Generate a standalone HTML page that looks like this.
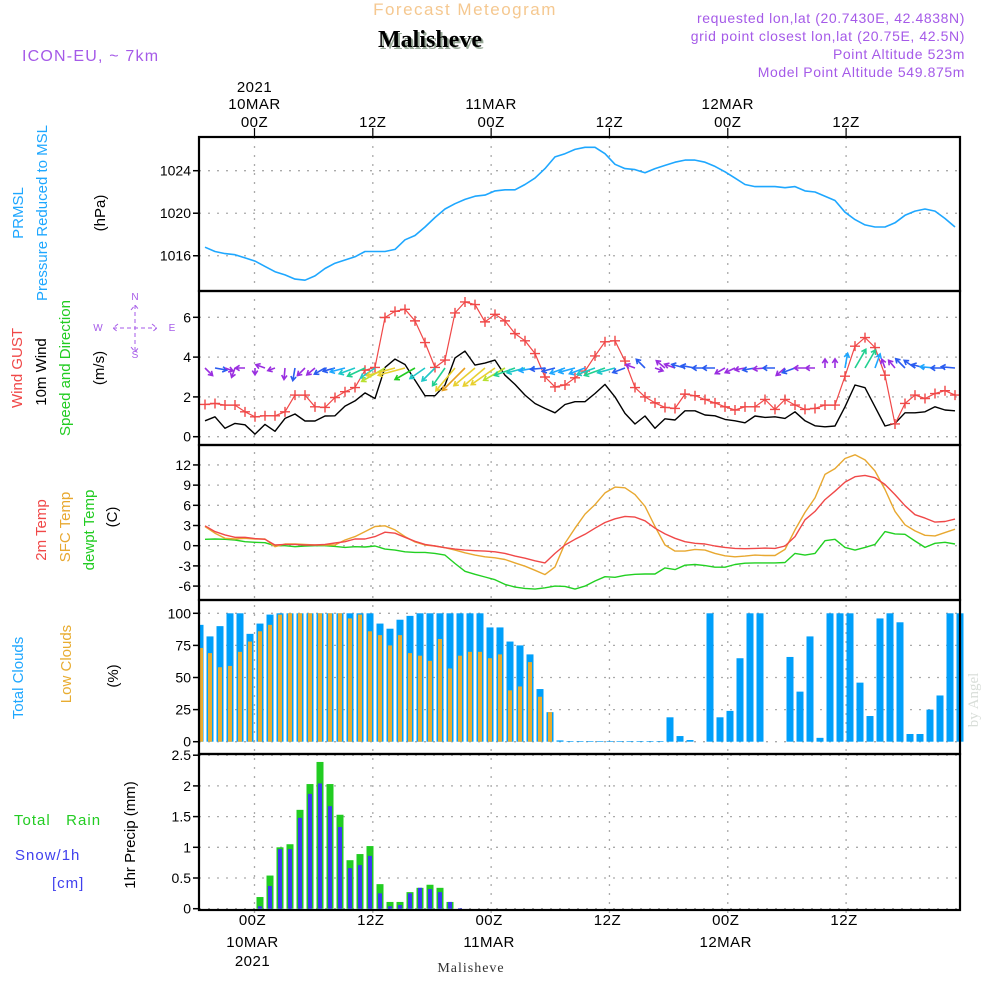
<!DOCTYPE html>
<html><head><meta charset="utf-8"><style>
html,body{margin:0;padding:0;background:#fff;}
svg{display:block;font-family:"Liberation Sans",sans-serif;}
</style></head><body>
<svg id="c" width="1000" height="1000" viewBox="0 0 1000 1000">
<text x="465" y="15" text-anchor="middle" font-size="17" fill="#f5c890" letter-spacing="1.5">Forecast Meteogram</text>
<text x="432" y="49" text-anchor="middle" font-size="24" font-weight="bold" font-family="Liberation Serif,serif" fill="#9a9">Malisheve</text>
<text x="430" y="47" text-anchor="middle" font-size="24" font-weight="bold" font-family="Liberation Serif,serif" fill="#000">Malisheve</text>
<g font-size="14" fill="#a55ae8" letter-spacing="0.6">
<text x="965" y="23" text-anchor="end">requested lon,lat (20.7430E, 42.4838N)</text>
<text x="965" y="41" text-anchor="end">grid point closest lon,lat (20.75E, 42.5N)</text>
<text x="965" y="59" text-anchor="end">Point Altitude 523m</text>
<text x="965" y="77" text-anchor="end">Model Point Altitude 549.875m</text>
</g>
<text x="22" y="61" font-size="16" fill="#a55ae8" letter-spacing="1.2">ICON-EU, ~ 7km</text>
<text x="978" y="700" transform="rotate(-90 978 700)" text-anchor="middle" font-size="15" font-family="Liberation Serif,serif" fill="#d8ddd8">by Angel</text>
<g id="grid"></g><g id="marks"></g><g id="axes"></g><g id="labels"></g>
</svg>
<script>
// ---- data (hourly, index 0..75) ----
const pressure=[1016.8,1016.4,1016.2,1016.1,1015.8,1015.5,1015.0,1014.5,1014.2,1013.8,1013.7,1014.1,1014.8,1015.3,1015.6,1015.9,1016.4,1016.4,1016.4,1016.6,1017.5,1017.9,1018.7,1019.6,1020.4,1020.9,1021.3,1021.6,1021.7,1022.1,1022.2,1022.2,1022.7,1023.3,1024.2,1025.3,1025.6,1026.0,1026.2,1026.2,1025.6,1024.6,1024.2,1024.1,1023.8,1024.2,1024.5,1024.8,1025.0,1025.0,1024.8,1024.4,1023.9,1023.3,1022.7,1022.5,1022.5,1022.5,1022.4,1022.5,1022.1,1022.0,1021.6,1021.2,1020.1,1019.4,1018.9,1018.7,1018.7,1019.1,1019.8,1020.2,1020.4,1020.2,1019.5,1018.7];
const gust=[1.62,1.67,1.59,1.59,1.25,1.0,1.05,1.05,1.25,2.09,2.09,1.5,1.47,1.97,2.26,2.47,3.34,3.48,5.99,6.3,6.4,5.82,4.73,3.48,3.85,6.22,6.77,6.64,5.77,6.15,5.82,5.18,4.82,4.18,3.0,2.5,2.6,2.96,3.3,4.06,4.77,4.82,3.8,2.47,2.0,1.7,1.47,1.42,2.14,2.06,1.87,1.7,1.5,1.34,1.5,1.5,1.87,1.37,1.87,1.59,1.37,1.42,1.59,1.59,3.04,4.55,4.98,4.48,3.09,0.64,1.67,2.09,1.92,2.17,2.31,2.09];
const wind=[0.8,1.0,0.42,0.67,0.6,0.13,0.62,0.27,0.92,1.14,0.79,0.79,1.04,1.05,1.54,1.8,2.2,1.92,3.48,3.9,3.63,2.84,2.06,2.06,2.6,3.96,4.3,3.6,3.7,3.85,3.09,2.63,2.09,1.67,1.42,1.2,1.62,1.76,1.76,2.17,2.63,2.0,1.17,0.64,1.04,0.42,0.9,0.84,1.3,1.3,1.09,1.05,0.87,0.8,0.7,1.04,0.97,1.0,0.92,1.25,0.8,0.55,0.5,0.54,1.5,2.6,2.46,1.5,0.54,0.67,1.2,1.2,1.25,1.5,1.34,1.3];
const windDir=[45,10,20,110,180,90,200,160,95,100,135,140,150,165,165,160,155,145,150,165,165,150,145,135,125,130,135,140,140,145,150,160,165,170,175,165,160,165,160,160,160,165,160,200,225,20,220,200,195,190,180,180,150,155,170,170,175,180,140,160,180,180,270,270,280,300,300,290,250,230,225,215,195,185,180,185];
const t2m=[2.95,2.1,1.6,1.25,1.25,1.05,0.95,0.1,0.2,0.2,0.1,0.1,0.2,0.4,0.6,1.0,1.0,1.35,2.0,1.85,1.25,0.65,0.2,-0.05,-0.3,-0.5,-0.65,-0.75,-0.8,-0.9,-1.15,-1.55,-1.85,-2.25,-2.55,-1.15,0.1,0.95,1.7,2.6,3.45,4.0,4.35,4.25,3.7,2.6,1.75,1.1,0.6,0.35,0.25,-0.05,-0.25,-0.4,-0.45,-0.4,-0.35,-0.4,-0.05,1.35,3.85,5.1,6.85,8.1,9.45,10.25,10.45,10.1,9.1,7.6,5.95,4.6,4.1,3.5,3.6,3.95];
const sfcT=[2.85,1.85,1.1,1.0,1.1,1.0,1.0,-0.15,0.25,0.25,0.2,0.1,0.1,0.1,0.85,1.35,2.1,2.85,2.95,2.35,1.35,0.55,0.1,-0.05,-0.3,-0.65,-1.05,-1.4,-1.65,-1.8,-2.05,-2.55,-3.05,-3.65,-4.3,-3.15,0.35,2.6,4.7,6.1,7.85,8.7,8.6,7.6,5.85,2.85,0.1,-0.8,-0.8,-0.55,-0.65,-1.15,-1.5,-1.65,-1.55,-1.4,-1.45,-1.45,-0.55,2.35,4.95,7.1,10.6,11.45,12.95,13.5,12.75,11.1,8.35,5.1,3.1,2.2,1.55,1.45,1.95,2.45];
const dewT=[0.95,1.0,0.95,0.85,0.6,0.5,0.45,0,0,-0.15,-0.05,0,0,-0.1,-0.25,-0.15,-0.2,-0.05,-0.5,-0.65,-0.9,-1.0,-1.0,-1.15,-1.4,-2.65,-3.8,-4.25,-4.65,-5.05,-5.75,-6.15,-6.35,-6.45,-6.25,-6.0,-6.05,-6.45,-6.0,-5.25,-4.6,-4.7,-4.4,-4.25,-4.2,-4.2,-3.3,-3.55,-2.9,-2.8,-2.95,-3.2,-3.2,-2.8,-2.6,-2.55,-2.55,-2.55,-2.5,-1.15,-1.4,-1.15,0.75,0.95,-0.25,-0.65,-0.25,0.2,2.1,1.75,1.7,0.7,-0.25,0.35,0.5,0.25];
// bars, index 0..76
const totalClouds=[91,82,90,100,100,84,92,99,100,100,100,100,100,100,100,100,100,100,92,88,95,98,100,100,100,100,100,100,100,89,89,78,75,68,41,23,1,0.5,0.5,0.5,0.5,0.5,0.5,0.5,0.5,0.5,0.5,19,4.4,1.3,0,100,19,24,65,100,100,0,0,66,39,82,3,100,100,100,46,20,96,100,93,6,6,25,36,100,100];
const lowClouds=[73,69,58,59,70,78,86,91,99,100,100,100,100,100,100,96,99,86,83,75,83,69,67,63,80,57,67,70,70,65,68,40,43,62,35,23,0,0,0,0,0,0,0,0,0,0,0,0,0,0,0,0,0,0,0,0,0,0,0,0,0,0,0,0,0,0,0,0,0,0,0,0,0,0,0,0,0];
const rain=[0,0,0,0,0,0,0.19,0.54,1.0,1.05,1.61,2.03,2.39,2.03,1.53,0.79,0.89,1.02,0.4,0.11,0.11,0.27,0.34,0.39,0.34,0.11,0,0,0,0,0,0,0,0,0,0,0,0,0,0,0,0,0,0,0,0,0,0,0,0,0,0,0,0,0,0,0,0,0,0,0,0,0,0,0,0,0,0,0,0,0,0,0,0,0,0,0];
const snow=[0,0,0,0,0,0,0.04,0.37,0.97,0.97,1.48,1.87,2.04,1.67,1.33,0.66,0.71,0.86,0.25,0.04,0.06,0.25,0.34,0.32,0.27,0.11,0.01,0,0,0,0,0,0,0,0,0,0,0,0,0,0,0,0,0,0,0,0,0,0,0,0,0,0,0,0,0,0,0,0,0,0,0,0,0,0,0,0,0,0,0,0,0,0,0,0,0,0];
const pTicks=[1016,1020,1024];
const wTicks=[0,2,4,6];
const tTicks=[-6,-3,0,3,6,9,12];
const cTicks=[0,25,50,75,100];
const rTicks=[0,0.5,1,1.5,2,2.5];
const rTickLabels=["0","0.5","1","1.5","2","2.5"];
const timeTicks=[0,12,24,36,48,60];
const timeLabelsTop=[["2021","10MAR","00Z"],["","","12Z"],["","11MAR","00Z"],["","","12Z"],["","12MAR","00Z"],["","","12Z"]];
const timeLabelsBot=[["00Z","10MAR","2021"],["12Z","",""],["00Z","11MAR",""],["12Z","",""],["00Z","12MAR",""],["12Z","",""]];

// ---- scales ----
const L=199,R=960;
const xL=i=>205+10*i;
const xB=i=>200+10*i;
const xT=h=>254.5+h*9.86;
const yP=v=>170.7+(1024-v)*10.63;
const yW=v=>436.7-v*19.9;
const yTm=v=>545.7-v*6.73;
const yC=v=>741.7-v*1.284;
const yR=v=>908.7-v*61.4;
const panels=[[137,291],[291,445],[445,600],[600,754],[754,910]];
const NS='http://www.w3.org/2000/svg';
function mk(tag,attrs,parent){const e=document.createElementNS(NS,tag);for(const k in attrs)e.setAttribute(k,attrs[k]);parent.appendChild(e);return e;}
const G=document.getElementById('grid'),M=document.getElementById('marks'),A=document.getElementById('axes'),T=document.getElementById('labels');

function hgrid(ticks,ys,fmt,name){ticks.forEach((t,k)=>{const y=ys(t);
 const g=mk('line',{x1:L,x2:R,y1:y,y2:y,stroke:'#aaa','stroke-width':1.3,'stroke-dasharray':'2 7'},G);
 
 
 const tk=mk('line',{x1:L-6,x2:L,y1:y,y2:y,stroke:'#000','stroke-width':1.5},A);
 
 
 const tx=mk('text',{x:L-8,y:y+5,'text-anchor':'end','font-size':14,fill:'#000'},A);tx.textContent=fmt(t,k);
 
 
});}
hgrid(pTicks,yP,t=>t,'pressure');
hgrid(wTicks,yW,t=>t,'wind');
hgrid(tTicks,yTm,t=>t,'temp');
hgrid(cTicks,yC,t=>t,'clouds');
hgrid(rTicks,yR,(t,k)=>rTickLabels[k],'precip');
timeTicks.forEach((h,k)=>{const x=xT(h);
 const v=mk('line',{x1:x,x2:x,y1:128,y2:920,stroke:'#aaa','stroke-width':1.3,'stroke-dasharray':'2 7'},G);
 
 
 const tt=mk('line',{x1:x,x2:x,y1:128,y2:137,stroke:'#000','stroke-width':1.2},A);
 
 
 const ys=[92,109,127];timeLabelsTop[k].forEach((s,j)=>{if(!s)return;const e=mk('text',{x:x,y:ys[j],'text-anchor':'middle','font-size':15,fill:'#000','letter-spacing':0.5},T);e.textContent=s;
  
  });
 const yb=[925,947,966];timeLabelsBot[k].forEach((s,j)=>{if(!s)return;const e=mk('text',{x:x-2,y:yb[j],'text-anchor':'middle','font-size':15,fill:'#000','letter-spacing':0.5},T);e.textContent=s;
  
  });
});

function line(vals,ys,color,name,w){const p=vals.map((v,i)=>xL(i).toFixed(1)+','+ys(v).toFixed(1)).join(' ');
 const e=mk('polyline',{points:p,fill:'none',stroke:color,'stroke-width':w||1.5,'stroke-linejoin':'round'},M);
 
 return e;}
line(pressure,yP,'#1ea7ff','pressure-line',1.6);
totalClouds.forEach((v,i)=>{const x=xB(i),y=yC(v);
 const r=mk('rect',{x:Math.max(L,x-3.5),y:y,width:7-(Math.max(L,x-3.5)-(x-3.5)),height:yC(0)-y,fill:'#009ffa'},M);
 
 });
lowClouds.forEach((v,i)=>{const x=xB(i),y=yC(v);
 const r=mk('rect',{x:Math.max(L,x-2),y:y,width:4,height:yC(0)-y,fill:'#e8ac30'},M);
 
 });
rain.forEach((v,i)=>{if(v<=0)return;const x=xB(i),y=yR(v);
 const r=mk('rect',{x:x-3.5,y:y,width:7,height:yR(0)-y,fill:'#22cc22'},M);
 
 });
snow.forEach((v,i)=>{if(v<=0)return;const x=xB(i),y=yR(v);
 const r=mk('rect',{x:x-2,y:y,width:4,height:yR(0)-y,fill:'#3a3af0'},M);
 
 });
line(dewT,yTm,'#22d022','dewpoint-line',1.4);
line(sfcT,yTm,'#e8a830','sfc-temp-line',1.4);
line(t2m,yTm,'#f04848','t2m-line',1.4);
line(wind,yW,'#000','wind-speed-line',1.4);
line(gust,yW,'#f04848','gust-line',1.2);
gust.forEach((v,i)=>{const x=xL(i),y=yW(v);
 const g=mk('path',{d:`M${x-5},${y}H${x+5}M${x},${y-5}V${y+5}`,stroke:'#f04848','stroke-width':1.4},M);
 
 });
function windColor(s){if(s<1)return'#9a2ee0';if(s<1.5)return'#2a5cf0';if(s<1.8)return'#1ea7ff';if(s<2.2)return'#1ec8c8';if(s<2.7)return'#20d090';if(s<3)return'#22cc22';if(s<3.5)return'#b8e030';if(s<4.1)return'#e8d030';return'#e8a020';}
windDir.forEach((d,i)=>{const s=wind[i],len=6+s*6,a=d*Math.PI/180,x0=xL(i),y0=368,x1=x0+len*Math.cos(a),y1=y0+len*Math.sin(a);
 const h=5,a1=a+Math.PI*0.82,a2=a-Math.PI*0.82;const c=windColor(s);
 const p=mk('path',{d:`M${x0.toFixed(1)},${y0}L${x1.toFixed(1)},${y1.toFixed(1)}M${(x1+h*Math.cos(a1)).toFixed(1)},${(y1+h*Math.sin(a1)).toFixed(1)}L${x1.toFixed(1)},${y1.toFixed(1)}L${(x1+h*Math.cos(a2)).toFixed(1)},${(y1+h*Math.sin(a2)).toFixed(1)}`,stroke:c,'stroke-width':1.6,fill:'none'},M);
 
 });
panels.forEach(([t,b],k)=>{const r=mk('rect',{x:L,y:t,width:R-L,height:b-t,fill:'none',stroke:'#000','stroke-width':2.2},A);
 
 });
function vlab(x,y,txt,color,name,size){const e=mk('text',{x:x,y:y,transform:`rotate(-90 ${x} ${y})`,'text-anchor':'middle','font-size':size||15,fill:color},T);e.textContent=txt;
 
 }
vlab(23,213,'PRMSL','#1ea7ff','prmsl-label');
vlab(47,213,'Pressure Reduced to MSL','#1ea7ff','pressure-axis-title');
vlab(105,213,'(hPa)','#000','pressure-unit');
vlab(22,368,'Wind GUST','#f04848','gust-label');
vlab(46,372,'10m Wind','#000','wind-label');
vlab(70,368,'Speed and Direction','#22cc22','wind-dir-label');
vlab(104,368,'(m/s)','#000','wind-unit');
vlab(46,530,'2m Temp','#f04848','t2m-label');
vlab(70,527,'SFC Temp','#e8a830','sfc-temp-label');
vlab(94,530,'dewpt Temp','#22cc22','dewpoint-label');
vlab(117,517,'(C)','#000','temp-unit');
vlab(23,678,'Total Clouds','#1ea7ff','total-clouds-label');
vlab(71,664,'Low Clouds','#e8ac30','low-clouds-label');
vlab(118,676,'(%)','#000','clouds-unit');
vlab(135,835,'1hr Precip (mm)','#000','precip-axis-title');
const hl=[[14,825,'Total   Rain','#22cc22','rain-label'],[15,860,'Snow/1h','#4040ee','snow-label'],[52,888,'[cm]','#4040ee','snow-unit']];
hl.forEach(h=>{const e=mk('text',{x:h[0],y:h[1],'font-size':15,fill:h[3],'letter-spacing':1,style:'white-space:pre'},T);e.textContent=h[2];
 
 });
const cp=mk('g',{fill:'#a55ae8','font-size':10,'text-anchor':'middle'},T);


[['N',135,300],['S',135,358],['W',98,331],['E',172,331]].forEach(a=>{const e=mk('text',{x:a[1],y:a[2]},cp);e.textContent=a[0];});
mk('path',{d:'M135,305V352M113,328H157M131,310L135,305L139,310M131,347L135,352L139,347M118,324L113,328L118,332M152,324L157,328L152,332',stroke:'#a55ae8','stroke-width':1,fill:'none','stroke-dasharray':'4 3'},cp);
const ft=mk('text',{x:471,y:972,'text-anchor':'middle','font-size':14,'font-family':'Liberation Serif,serif',fill:'#333','letter-spacing':1},T);ft.textContent='Malisheve';


</script>
</body></html>
